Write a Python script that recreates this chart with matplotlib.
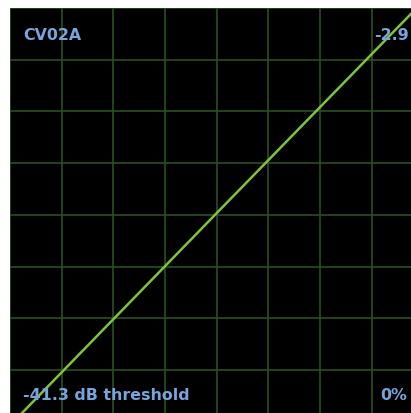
import matplotlib.pyplot as plt
import numpy as np

# transfer curve (input dB -> output dB)
input_db = [-48.0, -46.6, -24.0, -1.46, 0.0]
output_db = [-48.4, -47.0, -23.8, -0.7, 0.8]

name = "CV02A"
ratio_label = "-2.9"
threshold_label = "-41.3 dB threshold"
reduction_label = "0%"

x_min, x_max = -48.0, -1.44
y_min, y_max = -47.0, 0.0
grid_step = 6

fig = plt.figure(figsize=(4.11, 4.14), dpi=100)
fig.patch.set_facecolor("white")
ax = fig.add_axes([10 / 411, 0, 401 / 411, 405 / 414])
ax.set_facecolor("black")

ax.set_xlim(x_min, x_max)
ax.set_ylim(y_min, y_max)
ax.set_xticks(np.arange(x_min, x_max, grid_step))
ax.set_yticks(np.arange(y_max, y_min, -grid_step))
ax.grid(True, color="#2a5022", linewidth=1.2)
ax.tick_params(length=0, labelbottom=False, labelleft=False)
for s in ax.spines.values():
    s.set_visible(False)

ax.plot(input_db, output_db, color="#7cc43c", linewidth=1.8, zorder=3)

txt = dict(color="#78a4dc", fontsize=11.4, fontweight="bold",
           transform=ax.transAxes, zorder=4)
ax.text(13 / 401, 1 - 27 / 405, name, ha="left", va="center", **txt)
ax.text(399 / 401, 1 - 27 / 405, ratio_label, ha="right", va="center", **txt)
ax.text(13 / 401, 18 / 405, threshold_label, ha="left", va="center", **txt)
ax.text(397 / 401, 18 / 405, reduction_label, ha="right", va="center", **txt)

fig.savefig("out.png", dpi=100, facecolor="white")
